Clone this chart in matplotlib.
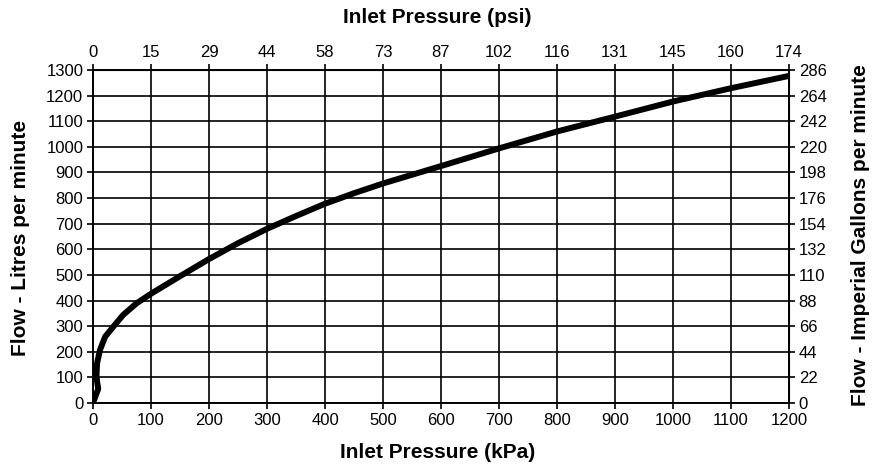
import matplotlib
matplotlib.use("Agg")
import matplotlib.pyplot as plt

# Data
pressure_kpa = [0, 4, 9, 7, 6, 7, 12, 21, 35, 52, 75, 101, 150, 200, 250, 300,
                350, 400, 450, 500, 600, 700, 800, 900, 1000, 1100, 1200]
flow_lpm = [0, 25, 55, 85, 110, 155, 207, 259, 298, 344, 389, 428, 495, 562, 624,
            680, 730, 778, 819, 857, 925, 994, 1060, 1118, 1177, 1229, 1277]

kpa_ticks = list(range(0, 1201, 100))
psi_labels = ["0", "15", "29", "44", "58", "73", "87", "102", "116", "131", "145", "160", "174"]
lpm_ticks = list(range(0, 1301, 100))
gpm_labels = ["0", "22", "44", "66", "88", "110", "132", "154", "176", "198", "220",
              "242", "264", "286"]

label_font = dict(family=["Liberation Sans", "DejaVu Sans"], weight="bold", size=15)
plt.rcParams["font.family"] = ["Liberation Sans", "DejaVu Sans"]

fig = plt.figure(figsize=(8.75, 4.68), dpi=100)
ax = fig.add_axes([0.1063, 0.1389, 0.7954, 0.7115])

ax.plot(pressure_kpa, flow_lpm, color="black", lw=4.3, solid_capstyle="round",
        solid_joinstyle="round")

ax.set_xlim(0, 1200)
ax.set_ylim(0, 1300)
ax.set_xticks(kpa_ticks)
ax.set_yticks(lpm_ticks)
ax.grid(True, color="black", lw=1.2)
ax.set_axisbelow(True)
for s in ax.spines.values():
    s.set_linewidth(1.4)
ax.tick_params(axis="both", direction="out", length=4, width=1.2, labelsize=12,
               pad=3, colors="black")

ax_top = ax.secondary_xaxis("top")
ax_top.set_xticks(kpa_ticks)
ax_top.set_xticklabels(psi_labels)
ax_top.tick_params(direction="out", length=4, width=1.2, labelsize=12, pad=3)

ax_right = ax.secondary_yaxis("right")
ax_right.set_yticks(lpm_ticks)
ax_right.set_yticklabels(gpm_labels)
ax_right.tick_params(direction="out", length=4, width=1.2, labelsize=12, pad=3)

fig.text(0.50, 0.034, "Inlet Pressure (kPa)", ha="center", va="center", **label_font)
fig.text(0.50, 0.962, "Inlet Pressure (psi)", ha="center", va="center", **label_font)
fig.text(0.023, 0.4925, "Flow - Litres per minute", ha="center", va="center",
         rotation=90, **label_font)
fig.text(0.983, 0.498, "Flow - Imperial Gallons per minute", ha="center", va="center",
         rotation=90, **label_font)

fig.savefig("out.png", dpi=100)
